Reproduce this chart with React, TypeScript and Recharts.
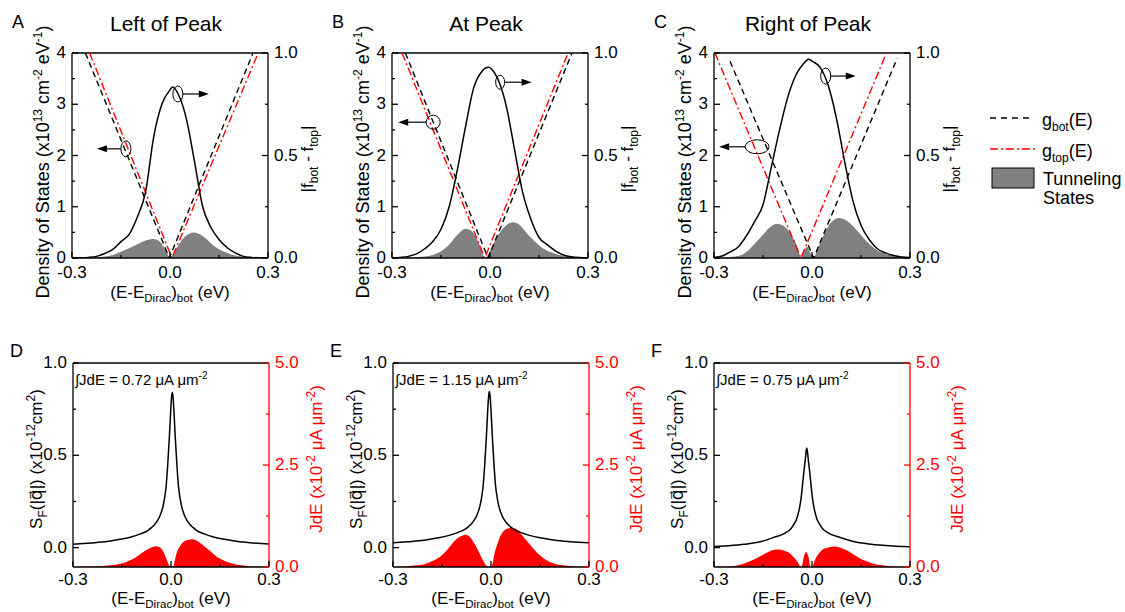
import React from "react";
import {
  ComposedChart,
  Line,
  Area,
  XAxis,
  YAxis,
  ReferenceLine,
  ReferenceDot,
} from "recharts";

const FONT = '"Liberation Sans", Arial, Helvetica, sans-serif';

type Pt = [number, number];

// ---- axis ticks ----
const xTicks = [-0.3, -0.15, 0, 0.15, 0.3];
const xMajor = [-0.3, 0, 0.3];
const dosTicks = [0, 0.5, 1, 1.5, 2, 2.5, 3, 3.5, 4];
const dosMajor = [0, 1, 2, 3, 4];
const occTicks = [0, 0.25, 0.5, 0.75, 1];
const occMajor = [0, 0.5, 1];
const sfTicks = [0, 0.25, 0.5, 0.75, 1];
const sfMajor = [0, 0.5, 1];
const jTicks = [0, 1.25, 2.5, 3.75, 5];
const jMajor = [0, 2.5, 5];

const titles = ["Left of Peak", "At Peak", "Right of Peak"];
const integrals = ["0.72", "1.15", "0.75"];

// ---- A: left of peak ----
const gBotA: Pt[] = [[-0.259, 4], [-0.002, 0], [0.254, 4]];
const gTopA: Pt[] = [[-0.246, 4], [0.006, 0], [0.27, 4]];
const fermiA: Pt[] = [
  [-0.3, 0], [-0.275, 0.001], [-0.25, 0.003], [-0.225, 0.008], [-0.2, 0.022], [-0.175, 0.042],
  [-0.15, 0.08], [-0.125, 0.115], [-0.1, 0.2], [-0.075, 0.32], [-0.05, 0.59], [-0.025, 0.75],
  [0, 0.82], [0.008, 0.834], [0.025, 0.8], [0.05, 0.68], [0.075, 0.47], [0.1, 0.25],
  [0.125, 0.15], [0.15, 0.09], [0.175, 0.05], [0.2, 0.025], [0.225, 0.008], [0.25, 0.003],
  [0.275, 0.001], [0.3, 0],
];
const tunA: Pt[] = [
  [-0.3, 0], [-0.25, 0.005], [-0.2, 0.03], [-0.175, 0.06], [-0.15, 0.12], [-0.125, 0.19],
  [-0.1, 0.27], [-0.075, 0.34], [-0.05, 0.37], [-0.035, 0.34], [-0.02, 0.22], [-0.01, 0.12],
  [-0.004, 0.03], [0.0, 0], [0.006, 0.04], [0.015, 0.14], [0.025, 0.24], [0.04, 0.38],
  [0.055, 0.46], [0.072, 0.5], [0.09, 0.47], [0.11, 0.38], [0.13, 0.26], [0.15, 0.17],
  [0.175, 0.1], [0.2, 0.05], [0.225, 0.025], [0.25, 0.01], [0.3, 0],
];

// ---- B: at peak ----
const gBotB: Pt[] = [[-0.259, 4], [-0.006, 0], [0.251, 4]];
const gTopB: Pt[] = [[-0.269, 4], [-0.016, 0], [0.239, 4]];
const fermiB: Pt[] = [
  [-0.3, 0], [-0.275, 0.003], [-0.25, 0.008], [-0.225, 0.02], [-0.2, 0.045], [-0.175, 0.08],
  [-0.15, 0.14], [-0.125, 0.25], [-0.1, 0.43], [-0.075, 0.64], [-0.05, 0.83], [-0.025, 0.91],
  [-0.005, 0.93], [0.015, 0.9], [0.03, 0.85], [0.05, 0.74], [0.075, 0.53], [0.1, 0.32],
  [0.125, 0.19], [0.15, 0.1], [0.175, 0.065], [0.2, 0.035], [0.225, 0.015], [0.25, 0.006],
  [0.275, 0.002], [0.3, 0],
];
const tunB: Pt[] = [
  [-0.3, 0], [-0.25, 0.01], [-0.2, 0.03], [-0.175, 0.06], [-0.15, 0.13], [-0.13, 0.23],
  [-0.1, 0.45], [-0.074, 0.57], [-0.055, 0.52], [-0.04, 0.36], [-0.028, 0.2], [-0.016, 0],
  [-0.005, 0.08], [0.005, 0.2], [0.02, 0.39], [0.035, 0.54], [0.05, 0.64], [0.071, 0.7],
  [0.09, 0.65], [0.112, 0.49], [0.13, 0.37], [0.153, 0.23], [0.175, 0.14], [0.193, 0.1],
  [0.22, 0.05], [0.245, 0.02], [0.3, 0],
];

// ---- C: right of peak ----
const gBotC: Pt[] = [[-0.251, 3.84], [0.005, 0], [0.261, 3.9]];
const gTopC: Pt[] = [[-0.297, 4], [-0.034, 0], [0.228, 4]];
const fermiC: Pt[] = [
  [-0.3, 0.003], [-0.275, 0.01], [-0.25, 0.03], [-0.225, 0.055], [-0.2, 0.11], [-0.175, 0.18],
  [-0.15, 0.26], [-0.125, 0.44], [-0.1, 0.62], [-0.075, 0.78], [-0.05, 0.89], [-0.025, 0.95],
  [-0.01, 0.97], [0, 0.96], [0.025, 0.93], [0.05, 0.84], [0.075, 0.68], [0.1, 0.47],
  [0.125, 0.28], [0.15, 0.16], [0.175, 0.09], [0.2, 0.045], [0.225, 0.025], [0.25, 0.012],
  [0.275, 0.005], [0.3, 0.002],
];
const tunC: Pt[] = [
  [-0.3, 0], [-0.25, 0.02], [-0.22, 0.05], [-0.2, 0.12], [-0.18, 0.25], [-0.148, 0.47],
  [-0.125, 0.62], [-0.107, 0.67], [-0.09, 0.64], [-0.077, 0.57], [-0.064, 0.45], [-0.051, 0.31],
  [-0.042, 0.16], [-0.034, 0], [-0.025, 0.12], [-0.015, 0.22], [-0.005, 0.1], [0.005, 0],
  [0.015, 0.15], [0.026, 0.31], [0.04, 0.5], [0.051, 0.63], [0.065, 0.73], [0.082, 0.78],
  [0.1, 0.75], [0.118, 0.67], [0.14, 0.52], [0.159, 0.38], [0.18, 0.25], [0.2, 0.15],
  [0.225, 0.08], [0.25, 0.04], [0.275, 0.015], [0.3, 0.005],
];

// ellipse markers [x, DOS]
const annA: Pt[] = [[-0.135, 2.13], [0.024, 3.2]];
const annB: Pt[] = [[-0.174, 2.65], [0.031, 3.43]];
const annC: Pt[] = [[-0.168, 2.17], [0.042, 3.55]];

// ---- D/E/F: spectral function and current ----
const sfD: Pt[] = [
  [-0.3, 0.018], [-0.246, 0.025], [-0.196, 0.033], [-0.156, 0.045], [-0.122, 0.058],
  [-0.096, 0.073], [-0.07, 0.094], [-0.06, 0.108], [-0.05, 0.125], [-0.042, 0.145],
  [-0.035, 0.167], [-0.03, 0.19], [-0.025, 0.22], [-0.02, 0.265], [-0.015, 0.33],
  [-0.01, 0.45], [-0.005, 0.6], [-0.001, 0.74], [0.002, 0.82], [0.004, 0.84], [0.006, 0.82],
  [0.009, 0.74], [0.013, 0.6], [0.018, 0.45], [0.023, 0.33], [0.028, 0.265], [0.033, 0.22],
  [0.038, 0.19], [0.043, 0.167], [0.05, 0.145], [0.058, 0.125], [0.068, 0.108], [0.078, 0.094],
  [0.104, 0.073], [0.13, 0.058], [0.164, 0.045], [0.204, 0.033], [0.254, 0.025], [0.3, 0.019],
];
const jD: Pt[] = [
  [-0.3, 0], [-0.25, 0.01], [-0.217, 0.02], [-0.185, 0.04], [-0.156, 0.08], [-0.135, 0.13],
  [-0.115, 0.2], [-0.1, 0.28], [-0.085, 0.37], [-0.065, 0.46], [-0.045, 0.51], [-0.032, 0.47],
  [-0.023, 0.37], [-0.015, 0.22], [-0.008, 0.08], [0, 0], [0.007, 0], [0.012, 0.17],
  [0.017, 0.33], [0.027, 0.5], [0.038, 0.61], [0.05, 0.66], [0.066, 0.68], [0.082, 0.63],
  [0.099, 0.53], [0.12, 0.39], [0.139, 0.26], [0.165, 0.15], [0.19, 0.08], [0.215, 0.04],
  [0.24, 0.016], [0.27, 0.005], [0.3, 0],
];
const sfE: Pt[] = [
  [-0.3, 0.026], [-0.255, 0.032], [-0.205, 0.04], [-0.165, 0.052], [-0.131, 0.065],
  [-0.105, 0.08], [-0.079, 0.1], [-0.069, 0.114], [-0.059, 0.131], [-0.051, 0.15],
  [-0.044, 0.172], [-0.039, 0.195], [-0.034, 0.225], [-0.029, 0.27], [-0.024, 0.335],
  [-0.019, 0.455], [-0.014, 0.605], [-0.01, 0.745], [-0.007, 0.825], [-0.005, 0.845],
  [-0.003, 0.825], [0.0, 0.745], [0.004, 0.605], [0.009, 0.455], [0.014, 0.335], [0.019, 0.27],
  [0.024, 0.225], [0.029, 0.195], [0.034, 0.172], [0.041, 0.15], [0.049, 0.131], [0.059, 0.114],
  [0.069, 0.1], [0.095, 0.08], [0.121, 0.065], [0.155, 0.052], [0.195, 0.04], [0.245, 0.032],
  [0.3, 0.026],
];
const jE: Pt[] = [
  [-0.3, 0], [-0.26, 0.015], [-0.227, 0.04], [-0.205, 0.07], [-0.186, 0.12], [-0.165, 0.2],
  [-0.145, 0.33], [-0.128, 0.48], [-0.11, 0.65], [-0.095, 0.74], [-0.079, 0.79], [-0.065, 0.74],
  [-0.054, 0.61], [-0.042, 0.45], [-0.03, 0.25], [-0.02, 0.1], [-0.012, 0.02], [-0.005, 0],
  [0.002, 0.02], [0.012, 0.37], [0.022, 0.62], [0.033, 0.82], [0.048, 0.93], [0.065, 0.96],
  [0.082, 0.9], [0.099, 0.74], [0.12, 0.54], [0.139, 0.37], [0.16, 0.22], [0.18, 0.12],
  [0.2, 0.07], [0.221, 0.04], [0.26, 0.01], [0.3, 0],
];
const sfF: Pt[] = [
  [-0.3, 0.006], [-0.256, 0.01], [-0.206, 0.018], [-0.156, 0.033], [-0.116, 0.056],
  [-0.081, 0.08], [-0.066, 0.1], [-0.056, 0.125], [-0.047, 0.155], [-0.04, 0.2],
  [-0.034, 0.26], [-0.029, 0.34], [-0.025, 0.41], [-0.021, 0.47], [-0.018, 0.52],
  [-0.016, 0.54], [-0.014, 0.52], [-0.011, 0.47], [-0.007, 0.41], [-0.003, 0.34],
  [0.002, 0.26], [0.008, 0.2], [0.015, 0.155], [0.024, 0.125], [0.034, 0.1], [0.049, 0.08],
  [0.084, 0.056], [0.124, 0.035], [0.174, 0.02], [0.224, 0.012], [0.3, 0.005],
];
const jF: Pt[] = [
  [-0.3, 0], [-0.25, 0.01], [-0.21, 0.08], [-0.19, 0.14], [-0.169, 0.22], [-0.15, 0.3],
  [-0.134, 0.37], [-0.115, 0.42], [-0.103, 0.43], [-0.085, 0.4], [-0.067, 0.33], [-0.055, 0.23],
  [-0.042, 0.1], [-0.035, 0], [-0.032, 0], [-0.025, 0.25], [-0.018, 0.37], [-0.011, 0.25],
  [-0.004, 0], [0.001, 0], [0.007, 0.13], [0.014, 0.25], [0.025, 0.37], [0.035, 0.44],
  [0.05, 0.48], [0.068, 0.5], [0.085, 0.48], [0.106, 0.41], [0.125, 0.32], [0.147, 0.21],
  [0.167, 0.14], [0.188, 0.08], [0.215, 0.04], [0.239, 0.02], [0.27, 0.007], [0.3, 0],
];

const rows = (a: Pt[]) => a.map(([x, y]) => ({ x, y }));

const near = (list: number[], v: number) => list.some((m) => Math.abs(m - v) < 1e-9);

const TICK_FS = 17;

// custom tick: draws an inward tick mark and (for majors) the label
function makeTick(
  side: string,
  majors: number[],
  fmt: (v: number) => string,
  color = "#000",
  below = 20
) {
  return (p: any) => {
    const v = p.payload.value;
    const major = near(majors, v);
    const len = major ? 6 : 3;
    const x = p.x;
    const y = p.y;
    if (side === "bottom") {
      return (
        <g>
          <line x1={x} x2={x} y1={y} y2={y - len} stroke={color} strokeWidth={1.3} />
          {major && (
            <text x={x} y={y + below} textAnchor="middle" fontSize={TICK_FS} fill={color} fontFamily={FONT}>
              {fmt(v)}
            </text>
          )}
        </g>
      );
    }
    const dir = side === "left" ? 1 : -1;
    return (
      <g>
        <line x1={x} x2={x + dir * len} y1={y} y2={y} stroke={color} strokeWidth={1.3} />
        {major && (
          <text
            x={x - dir * 6}
            y={y}
            dy="0.3em"
            textAnchor={side === "left" ? "end" : "start"}
            fontSize={TICK_FS}
            fill={color}
            fontFamily={FONT}
          >
            {fmt(v)}
          </text>
        )}
      </g>
    );
  };
}

const fmtX = (v: number) => (v === 0 ? "0.0" : v.toFixed(1));
const fmtInt = (v: number) => String(v);
const fmt1 = (v: number) => v.toFixed(1);

// ellipse with an arrow pointing to the axis it belongs to
function marker(rx: number, ry: number, dir: number, len: number) {
  return (p: any) => {
    const { cx, cy } = p;
    const x0 = cx + dir * rx;
    const x1 = x0 + dir * len;
    return (
      <g>
        <ellipse cx={cx} cy={cy} rx={rx} ry={ry} fill="none" stroke="#000" strokeWidth={1} />
        <line x1={x0} y1={cy} x2={x1 - dir * 8} y2={cy} stroke="#000" strokeWidth={1.2} />
        <polygon
          points={`${x1},${cy} ${x1 - dir * 10},${cy - 3.5} ${x1 - dir * 10},${cy + 3.5}`}
          fill="#000"
        />
      </g>
    );
  };
}

const W = 340;
const H = 300;
const PL = 72;
const PT = 53;
const PW = 196;

function DosPanel(props: {
  L: number;
  T: number;
  fermi: Pt[];
  gBot: Pt[];
  gTop: Pt[];
  tun: Pt[];
  ann: Pt[];
  mk: [number, number, number, number][];
}) {
  const PH = 205;
  return (
    <div style={{ position: "absolute", left: props.L - PL, top: props.T - PT, width: W, height: H }}>
      <ComposedChart
        width={W}
        height={H}
        margin={{ top: PT, left: PL - 30, right: W - PL - PW - 40, bottom: H - PT - PH - 30 }}
      >
        <XAxis
          type="number"
          dataKey="x"
          domain={[-0.3, 0.3]}
          ticks={xTicks}
          interval={0}
          allowDataOverflow
          height={30}
          tickLine={false}
          tickSize={0}
          tickMargin={0}
          stroke="#000"
          strokeWidth={1.3}
          tick={makeTick("bottom", xMajor, fmtX, "#000", 20)}
        />
        <YAxis
          yAxisId="dos"
          type="number"
          domain={[0, 4]}
          ticks={dosTicks}
          interval={0}
          allowDataOverflow
          width={30}
          tickLine={false}
          tickSize={0}
          tickMargin={0}
          stroke="#000"
          strokeWidth={1.3}
          tick={makeTick("left", dosMajor, fmtInt)}
        />
        <YAxis
          yAxisId="occ"
          orientation="right"
          type="number"
          domain={[0, 1]}
          ticks={occTicks}
          interval={0}
          allowDataOverflow
          width={40}
          tickLine={false}
          tickSize={0}
          tickMargin={0}
          stroke="#000"
          strokeWidth={1.3}
          tick={makeTick("right", occMajor, fmt1)}
        />
        <ReferenceLine yAxisId="dos" y={4} stroke="#000" strokeWidth={1.3} />
        <Area
          yAxisId="dos"
          data={rows(props.tun)}
          dataKey="y"
          type="monotone"
          fill="#808080"
          fillOpacity={1}
          stroke="none"
          isAnimationActive={false}
        />
        <Line
          yAxisId="dos"
          data={rows(props.gBot)}
          dataKey="y"
          type="linear"
          stroke="#000"
          strokeWidth={1.4}
          strokeDasharray="6 4"
          dot={false}
          isAnimationActive={false}
        />
        <Line
          yAxisId="dos"
          data={rows(props.gTop)}
          dataKey="y"
          type="linear"
          stroke="#ff0000"
          strokeWidth={1.4}
          strokeDasharray="8 3 2 3"
          dot={false}
          isAnimationActive={false}
        />
        <Line
          yAxisId="occ"
          data={rows(props.fermi)}
          dataKey="y"
          type="monotone"
          stroke="#000"
          strokeWidth={1.5}
          dot={false}
          isAnimationActive={false}
        />
        {props.ann.map((a, i) => (
          <ReferenceDot
            key={i}
            yAxisId="dos"
            x={a[0]}
            y={a[1]}
            r={0}
            shape={marker(props.mk[i][0], props.mk[i][1], props.mk[i][2], props.mk[i][3])}
          />
        ))}
      </ComposedChart>
    </div>
  );
}

function CurrentPanel(props: { L: number; T: number; sf: Pt[]; j: Pt[] }) {
  const PH = 204;
  return (
    <div style={{ position: "absolute", left: props.L - PL, top: props.T - PT, width: W, height: H }}>
      <ComposedChart
        width={W}
        height={H}
        margin={{ top: PT, left: PL - 30, right: W - PL - PW - 40, bottom: H - PT - PH - 30 }}
      >
        <XAxis
          type="number"
          dataKey="x"
          domain={[-0.3, 0.3]}
          ticks={xTicks}
          interval={0}
          allowDataOverflow
          height={30}
          tickLine={false}
          tickSize={0}
          tickMargin={0}
          stroke="#000"
          strokeWidth={1.3}
          tick={makeTick("bottom", xMajor, fmtX, "#000", 18)}
        />
        <YAxis
          yAxisId="sf"
          type="number"
          domain={[-0.105, 1]}
          ticks={sfTicks}
          interval={0}
          allowDataOverflow
          width={30}
          tickLine={false}
          tickSize={0}
          tickMargin={0}
          stroke="#000"
          strokeWidth={1.3}
          tick={makeTick("left", sfMajor, fmt1)}
        />
        <YAxis
          yAxisId="j"
          orientation="right"
          type="number"
          domain={[0, 5]}
          ticks={jTicks}
          interval={0}
          allowDataOverflow
          width={40}
          tickLine={false}
          tickSize={0}
          tickMargin={0}
          stroke="#ff0000"
          strokeWidth={1.3}
          tick={makeTick("right", jMajor, fmt1, "#ff0000")}
        />
        <ReferenceLine yAxisId="sf" y={1} stroke="#000" strokeWidth={1.3} />
        <Area
          yAxisId="j"
          data={rows(props.j)}
          dataKey="y"
          type="monotone"
          fill="#ff0000"
          fillOpacity={1}
          stroke="none"
          isAnimationActive={false}
        />
        <Line
          yAxisId="sf"
          data={rows(props.sf)}
          dataKey="y"
          type="monotone"
          stroke="#000"
          strokeWidth={1.5}
          dot={false}
          isAnimationActive={false}
        />
      </ComposedChart>
    </div>
  );
}

const SUB = 12;

function XLabel({ cx, y }: { cx: number; y: number }) {
  return (
    <text x={cx} y={y} textAnchor="middle" fontSize={17} fontFamily={FONT} fill="#000">
      (E-E<tspan dy={4} fontSize={11.5}>Dirac</tspan>
      <tspan dy={-4}>)</tspan>
      <tspan dy={4} fontSize={11.5}>bot</tspan>
      <tspan dy={-4}> (eV)</tspan>
    </text>
  );
}

function TopTexts({ L, T, i }: { L: number; T: number; i: number }) {
  const cy = T + 109;
  const lx = L - 23;
  const rx = L + PW + 45;
  const ry = T + 106;
  return (
    <g fontFamily={FONT} fill="#000">
      <text x={L - 60} y={28} fontSize={18}>{"ABC"[i]}</text>
      <text x={L + PW / 2 - 4} y={31} fontSize={21} textAnchor="middle">{titles[i]}</text>
      <text x={lx} y={cy} fontSize={18} textAnchor="middle" transform={`rotate(-90 ${lx} ${cy})`}>
        Density of States (x10<tspan dy={-7} fontSize={SUB}>13</tspan>
        <tspan dy={7}> cm</tspan>
        <tspan dy={-7} fontSize={SUB}>-2</tspan>
        <tspan dy={7}> eV</tspan>
        <tspan dy={-7} fontSize={SUB}>-1</tspan>
        <tspan dy={7}>)</tspan>
      </text>
      <text x={rx} y={ry} fontSize={17} textAnchor="middle" transform={`rotate(-90 ${rx} ${ry})`}>
        |f<tspan dy={5} fontSize={SUB}>bot</tspan>
        <tspan dy={-5}> - f</tspan>
        <tspan dy={5} fontSize={SUB}>top</tspan>
        <tspan dy={-5}>|</tspan>
      </text>
      <XLabel cx={L + PW / 2} y={298} />
    </g>
  );
}

function BottomTexts({ L, T, i }: { L: number; T: number; i: number }) {
  const cy = T + 96;
  const lx = L - 31;
  const rx = L + PW + 53;
  return (
    <g fontFamily={FONT} fill="#000">
      <text x={L - 63} y={357} fontSize={18}>{"DEF"[i]}</text>
      <text x={L + 2} y={T + 22} fontSize={15}>
        ∫JdE = {integrals[i]} μA μm<tspan dy={-6} fontSize={10}>-2</tspan>
      </text>
      <text x={lx} y={cy} fontSize={17} textAnchor="middle" transform={`rotate(-90 ${lx} ${cy})`}>
        S<tspan dy={5} fontSize={SUB}>F</tspan>
        <tspan dy={-5}>(|</tspan>
        <tspan fontFamily='"DejaVu Sans", sans-serif'>{"q\u20D7"}</tspan>
        <tspan>|) (x10</tspan>
        <tspan dy={-7} fontSize={SUB}>-12</tspan>
        <tspan dy={7}>cm</tspan>
        <tspan dy={-7} fontSize={SUB}>2</tspan>
        <tspan dy={7}>)</tspan>
      </text>
      <text
        x={rx}
        y={cy}
        fontSize={17}
        fill="#ff0000"
        textAnchor="middle"
        transform={`rotate(-90 ${rx} ${cy})`}
      >
        JdE (x10<tspan dy={-7} fontSize={SUB}>-2</tspan>
        <tspan dy={7}> μA μm</tspan>
        <tspan dy={-7} fontSize={SUB}>-2</tspan>
        <tspan dy={7}>)</tspan>
      </text>
      <XLabel cx={L + PW / 2} y={604} />
    </g>
  );
}

function Legend() {
  return (
    <g fontFamily={FONT} fill="#000">
      <line x1={990} x2={1031} y1={118} y2={118} stroke="#000" strokeWidth={1.4} strokeDasharray="6 5" />
      <text x={1042} y={126} fontSize={18}>
        g<tspan dy={5} fontSize={SUB}>bot</tspan>
        <tspan dy={-5}>(E)</tspan>
      </text>
      <line x1={990} x2={1036} y1={149} y2={149} stroke="#ff0000" strokeWidth={1.4} strokeDasharray="8 3 2 3" />
      <text x={1042} y={157} fontSize={18}>
        g<tspan dy={5} fontSize={SUB}>top</tspan>
        <tspan dy={-5}>(E)</tspan>
      </text>
      <rect x={992} y={168} width={42} height={20} fill="#808080" stroke="#000" strokeWidth={1} />
      <text x={1043} y={185} fontSize={18}>Tunneling</text>
      <text x={1043} y={204} fontSize={18}>States</text>
    </g>
  );
}

const topL = [72, 392, 714];
const botL = [73, 393, 714];
const TOP_T = 53;
const BOT_T = 363;

export default function App() {
  return (
    <div
      style={{
        position: "absolute",
        left: 0,
        top: 0,
        width: 1125,
        height: 612,
        background: "#fff",
        overflow: "hidden",
      }}
    >
      <DosPanel
        L={topL[0]}
        T={TOP_T}
        fermi={fermiA}
        gBot={gBotA}
        gTop={gTopA}
        tun={tunA}
        ann={annA}
        mk={[[5, 8, -1, 24], [5, 8, 1, 26]]}
      />
      <DosPanel
        L={topL[1]}
        T={TOP_T}
        fermi={fermiB}
        gBot={gBotB}
        gTop={gTopB}
        tun={tunB}
        ann={annB}
        mk={[[7, 7, -1, 28], [4.5, 7, 1, 27]]}
      />
      <DosPanel
        L={topL[2]}
        T={TOP_T}
        fermi={fermiC}
        gBot={gBotC}
        gTop={gTopC}
        tun={tunC}
        ann={annC}
        mk={[[12, 7, -1, 26], [5, 8, 1, 25]]}
      />
      <CurrentPanel L={botL[0]} T={BOT_T} sf={sfD} j={jD} />
      <CurrentPanel L={botL[1]} T={BOT_T} sf={sfE} j={jE} />
      <CurrentPanel L={botL[2]} T={BOT_T} sf={sfF} j={jF} />
      <svg
        width={1125}
        height={612}
        style={{ position: "absolute", left: 0, top: 0, pointerEvents: "none" }}
      >
        {topL.map((L, i) => (
          <TopTexts key={i} L={L} T={TOP_T} i={i} />
        ))}
        {botL.map((L, i) => (
          <BottomTexts key={i} L={L} T={BOT_T} i={i} />
        ))}
        <Legend />
      </svg>
    </div>
  );
}
